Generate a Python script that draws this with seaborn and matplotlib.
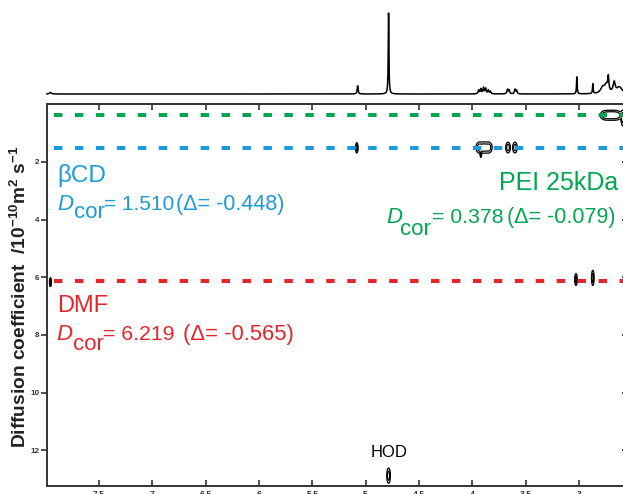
import numpy as np
import matplotlib
matplotlib.use("Agg")
import matplotlib.pyplot as plt
import seaborn as sns
import pandas as pd

# ---------------- data ----------------
# 1D 1H projection: peak positions (ppm), relative heights, half-widths (ppm)
spec_ppm = [7.955, 5.075, 4.785, 3.94, 3.92, 3.895, 3.875, 3.85, 3.83,
            3.67, 3.655, 3.60, 3.585, 3.02, 2.87, 2.78, 2.745, 2.725, 2.67, 2.62]
spec_height = [0.02, 0.10, 1.00, 0.045, 0.06, 0.075, 0.065, 0.045, 0.03,
               0.055, 0.045, 0.055, 0.04, 0.21, 0.12, 0.07, 0.10, 0.17, 0.13, 0.08]
spec_hw = [0.010, 0.005, 0.0035, 0.006, 0.006, 0.006, 0.006, 0.006, 0.006,
           0.006, 0.006, 0.006, 0.006, 0.0035, 0.0035, 0.02, 0.02, 0.006, 0.012, 0.03]

# DOSY cross peaks: ppm, diffusion coefficient, widths
dosy_ppm = [4.785, 5.083, 3.935, 3.89, 3.845, 3.92, 3.665, 3.60,
            2.755, 2.70, 2.645, 2.59, 3.028, 2.87, 7.955]
dosy_D = [12.88, 1.51, 1.50, 1.50, 1.50, 1.72, 1.50, 1.50,
          0.38, 0.38, 0.38, 0.48, 6.08, 6.02, 6.17]
dosy_sx = [0.011, 0.008, 0.02, 0.02, 0.02, 0.004, 0.014, 0.014,
           0.03, 0.03, 0.03, 0.010, 0.008, 0.008, 0.006]
dosy_sy = [0.17, 0.115, 0.12, 0.12, 0.12, 0.08, 0.12, 0.12,
           0.10, 0.10, 0.10, 0.17, 0.13, 0.17, 0.10]

species = ["PEI 25kDa", "βCD", "DMF"]
line_D = [0.378, 1.510, 6.14]
dcor_vals = ["0.378", "1.510", "6.219"]
delta_vals = ["-0.079", "-0.448", "-0.565"]
colors = ["#00A651", "#1B9BD7", "#E3262B"]

xtick_vals = [7.5, 7.0, 6.5, 6.0, 5.5, 5.0, 4.5, 4.0, 3.5, 3.0]
xtick_labels = ["7.5", "7", "6.5", "6", "5.5", "5", "4.5", "4", "3.5", "3"]
ytick_vals = [2, 4, 6, 8, 10, 12]
ytick_labels = ["2", "4", "6", "8", "10", "12"]

# ---------------- style ----------------
sns.set_theme(style="ticks")
plt.rcParams['font.family'] = ['Liberation Sans', 'DejaVu Sans']
plt.rcParams['mathtext.fontset'] = 'custom'
plt.rcParams['mathtext.rm'] = 'Liberation Sans'
plt.rcParams['mathtext.bf'] = 'Liberation Sans:bold'
plt.rcParams['mathtext.it'] = 'Liberation Sans:italic'
plt.rcParams['mathtext.default'] = 'bf'

W, H = 623, 494
fig = plt.figure(figsize=(W / 100, H / 100), dpi=100)

XL, XR = 7.99, 2.559
left_px, right_px, top_px, bot_px = 46.7, 626, 104.3, 485.7
ax = fig.add_axes([left_px / W, 1 - bot_px / H, (right_px - left_px) / W, (bot_px - top_px) / H])

# contours
gx = np.arange(2.45, 8.05, 0.0015)
gy = np.arange(0, 13.4, 0.015)
X, Y = np.meshgrid(gx, gy)
Z = np.zeros_like(X)
for p, d, sx, sy in zip(dosy_ppm, dosy_D, dosy_sx, dosy_sy):
    Z += np.exp(-((X - p) ** 2) / (2 * sx ** 2) - ((Y - d) ** 2) / (2 * sy ** 2))
ax.contour(X, Y, Z, levels=[0.3, 0.65], colors='black', linewidths=0.9, zorder=2)

# dashed reference lines
for d, c in zip(line_D, colors):
    df = pd.DataFrame({"ppm": [7.92, 2.45], "D": [d, d]})
    sns.lineplot(data=df, x="ppm", y="D", ax=ax, color=c, lw=2.9,
                 linestyle=(0, (2.1, 3.1)), estimator=None, sort=False, zorder=3)

ax.set_xlim(XL, XR)
ax.set_ylim(13.23, 0.0)
ax.set_xlabel("")
ax.set_ylabel("")
ax.set_xticks(xtick_vals)
ax.set_xticklabels(xtick_labels)
ax.set_yticks(ytick_vals)
ax.set_yticklabels(ytick_labels)
for s in ax.spines.values():
    s.set_linewidth(1.4)
    s.set_color("#333333")
ax.tick_params(axis='y', direction='out', length=4, width=1.2, labelsize=5.8,
               pad=1.2, colors="#333333")
ax.tick_params(axis='x', direction='in', length=4.5, width=1.2, labelsize=6.2,
               pad=3, top=True, colors="#333333")
for lab in ax.get_xticklabels() + ax.get_yticklabels():
    lab.set_fontweight('bold')
sec = ax.secondary_yaxis('right')
sec.set_yticks(ytick_vals)
sec.tick_params(direction='in', length=3, width=1.2, labelright=False, colors="#333333")

# 1D projection
spec_top, spec_base = 13.0, 94.0
axs = fig.add_axes([left_px / W, 1 - spec_base / H, (right_px - left_px) / W, (spec_base - spec_top) / H])
sx_grid = np.linspace(XL, 2.45, 30000)
sy_vals = np.zeros_like(sx_grid)
for p, h, w in zip(spec_ppm, spec_height, spec_hw):
    sy_vals += h * w ** 2 / ((sx_grid - p) ** 2 + w ** 2)
sns.lineplot(x=sx_grid, y=sy_vals, ax=axs, color='black', lw=1.1,
             estimator=None, sort=False)
axs.set_xlim(XL, XR)
axs.set_ylim(0, 1.0)
axs.axis('off')
for ln in axs.lines:
    ln.set_clip_on(False)

# ---------------- text ----------------
def ftext(xpx, ypx, s, **kw):
    fig.text(xpx / W, 1 - ypx / H, s, va='baseline', **kw)

blue, green, red = colors[1], colors[0], colors[2]
# beta-CD
ftext(57, 181.7, species[1], size=17.5, color=blue)
ftext(57.7, 210, "D", size=16, style='italic', color=blue)
ftext(74, 218.3, "cor", size=16, color=blue)
ftext(104, 210, "= " + dcor_vals[1], size=15, color=blue)
ftext(176, 210, "(Δ= " + delta_vals[1] + ")", size=15.5, color=blue)
# PEI
ftext(618, 190, species[0], size=18, color=green, ha='right')
ftext(386, 223.3, "D", size=16, style='italic', color=green)
ftext(400, 235, "cor", size=16, color=green)
ftext(432, 223.3, "= " + dcor_vals[0], size=15.3, color=green)
ftext(507, 223.3, "(Δ= " + delta_vals[0] + ")", size=15.5, color=green)
# DMF
ftext(56.7, 311.7, species[2], size=17, color=red)
ftext(56.7, 340, "D", size=16, style='italic', color=red)
ftext(73.5, 350, "cor", size=16, color=red)
ftext(103, 340, "= " + dcor_vals[2], size=15.3, color=red)
ftext(183, 340, "(Δ= " + delta_vals[2] + ")", size=15.8, color=red)
# HOD
ftext(389.5, 457.3, "HOD", size=12, color='black', ha='center')

fig.text(19.5 / W, 1 - 296.5 / H,
         r"Diffusion coefficient  /10$^{-10}$m$^{2}$ s$^{-1}$",
         rotation=90, va='center', ha='center', fontweight='bold', size=13.8,
         color="#222222")

fig.savefig("out.png", dpi=100)
